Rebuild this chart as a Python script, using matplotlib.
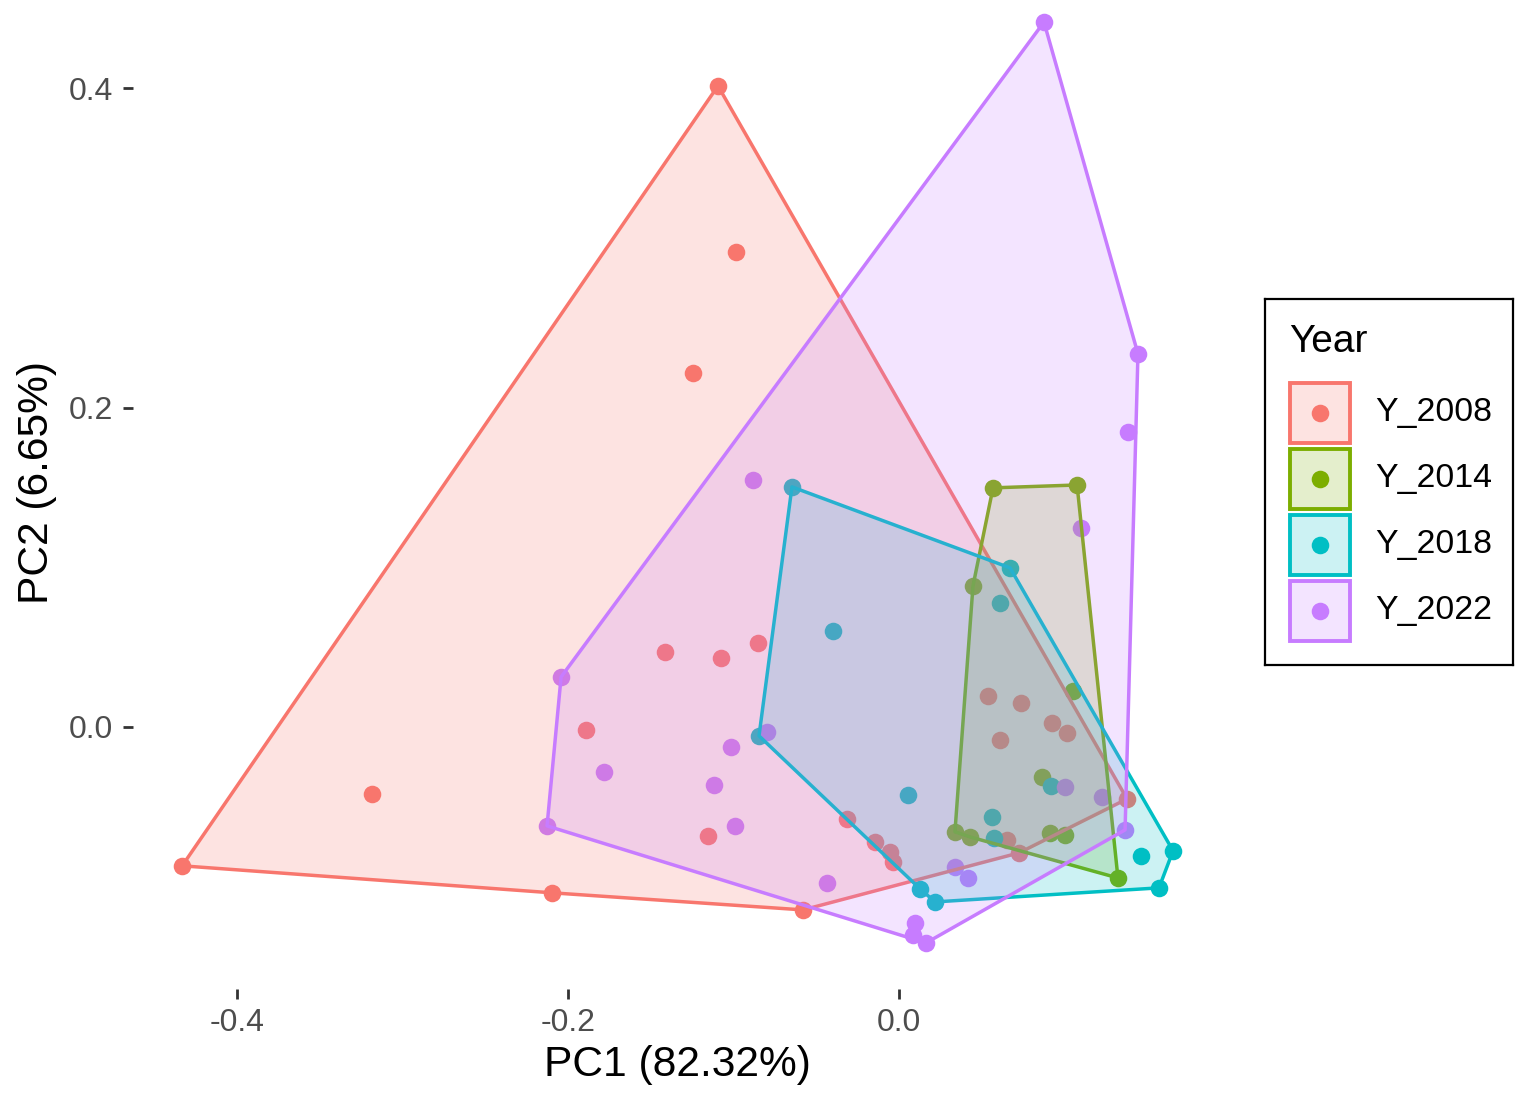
import matplotlib
matplotlib.use("Agg")
import matplotlib.pyplot as plt
import numpy as np
from matplotlib.colors import to_rgba
from matplotlib.patches import Polygon, Rectangle


# ── Data: PCA scores per survey year ────────────────────────────────────────
YEARS = ["Y_2008", "Y_2014", "Y_2018", "Y_2022"]
COLORS = ["#F8766D", "#7CAE00", "#00BFC4", "#C77CFF"]

pc1_2008 = [-0.1094, -0.0985, -0.1245, -0.3184, -0.4332, -0.2097, -0.0580,
            -0.1414, -0.1076, -0.0852, -0.1891, -0.1154, -0.0314, -0.0145,
            -0.0054, -0.0036, 0.0538, 0.0737, 0.0924, 0.1015, 0.0610,
            0.0653, 0.0725, 0.1378]
pc2_2008 = [0.4014, 0.2974, 0.2217, -0.0420, -0.0870, -0.1039, -0.1146,
            0.0470, 0.0432, 0.0526, -0.0019, -0.0683, -0.0576, -0.0720,
            -0.0783, -0.0845, 0.0194, 0.0150, 0.0025, -0.0038, -0.0081,
            -0.0708, -0.0789, -0.0451]

pc1_2014 = [0.0568, 0.1076, 0.0447, 0.1051, 0.0864, 0.0338, 0.0429,
            0.0912, 0.1003, 0.1323]
pc2_2014 = [0.1497, 0.1515, 0.0883, 0.0225, -0.0313, -0.0657, -0.0689,
            -0.0664, -0.0676, -0.0946]

pc1_2018 = [-0.0647, 0.0671, 0.0610, -0.0399, -0.0846, 0.0054, 0.0562,
            0.0574, 0.0918, 0.0127, 0.0218, 0.1462, 0.1656, 0.1571]
pc2_2018 = [0.1503, 0.0996, 0.0776, 0.0601, -0.0056, -0.0426, -0.0564,
            -0.0695, -0.0369, -0.1014, -0.1096, -0.0808, -0.0776, -0.1008]

pc1_2022 = [0.0876, 0.1444, 0.1384, -0.0882, 0.1100, -0.2042, -0.2127,
            -0.0798, -0.1015, -0.1782, -0.1118, -0.0991, -0.0435, 0.1003,
            0.1227, 0.1366, 0.0338, 0.0417, 0.0097, 0.0085, 0.0163]
pc2_2022 = [0.4414, 0.2336, 0.1847, 0.1547, 0.1246, 0.0313, -0.0620,
            -0.0031, -0.0125, -0.0282, -0.0363, -0.0620, -0.0977, -0.0376,
            -0.0438, -0.0645, -0.0877, -0.0946, -0.1227, -0.1302, -0.1353]

PC1 = [pc1_2008, pc1_2014, pc1_2018, pc1_2022]
PC2 = [pc2_2008, pc2_2014, pc2_2018, pc2_2022]

X_TICKS = [-0.4, -0.2, 0.0]
Y_TICKS = [0.0, 0.2, 0.4]


def convex_hull(xs, ys):
    """Monotone chain hull, returns vertices in order."""
    pts = sorted(set(zip(xs, ys)))

    def cross(o, a, b):
        return (a[0] - o[0]) * (b[1] - o[1]) - (a[1] - o[1]) * (b[0] - o[0])

    lower, upper = [], []
    for p in pts:
        while len(lower) >= 2 and cross(lower[-2], lower[-1], p) <= 0:
            lower.pop()
        lower.append(p)
    for p in reversed(pts):
        while len(upper) >= 2 and cross(upper[-2], upper[-1], p) <= 0:
            upper.pop()
        upper.append(p)
    return np.array(lower[:-1] + upper[:-1])


# ── Style ───────────────────────────────────────────────────────────────────
plt.rcParams.update({
    "font.family": ["Liberation Sans", "DejaVu Sans"],
    "axes.unicode_minus": False,
})

W, H, DPI = 1516, 1094, 200
FILL_ALPHA = 0.2
fig = plt.figure(figsize=(W / DPI, H / DPI), dpi=DPI)

# panel extends a little above the canvas edge
ax = fig.add_axes([132.6 / W, 1 - 989 / H, 1090 / W, 1013 / H])

all_x = np.concatenate(PC1)
all_y = np.concatenate(PC2)
xr = all_x.max() - all_x.min()
yr = all_y.max() - all_y.min()
ax.set_xlim(all_x.min() - 0.05 * xr, all_x.max() + 0.05 * xr)
ax.set_ylim(all_y.min() - 0.05 * yr, all_y.max() + 0.05 * yr)

# points first, then one hull per year (fill + outline together)
for xs, ys, col in zip(PC1, PC2, COLORS):
    ax.scatter(xs, ys, s=40, color=col, linewidths=0, zorder=2)

for i, (xs, ys, col) in enumerate(zip(PC1, PC2, COLORS)):
    hull = convex_hull(xs, ys)
    ax.add_patch(Polygon(hull, closed=True,
                         facecolor=to_rgba(col, FILL_ALPHA),
                         edgecolor=col, linewidth=1.25,
                         joinstyle="round", zorder=3 + i))

for s in ax.spines.values():
    s.set_visible(False)
ax.set_xticks(X_TICKS)
ax.set_xticklabels([f"{t:.1f}" for t in X_TICKS])
ax.set_yticks(Y_TICKS)
ax.set_yticklabels([f"{t:.1f}" for t in Y_TICKS])
ax.tick_params(length=3.6, width=1.0, color="#333333", labelcolor="#4D4D4D",
               labelsize=11.5, pad=3.3)

ax.set_xlabel("PC1 (82.32%)", fontsize=15.3, color="black")
ax.set_ylabel("PC2 (6.65%)", fontsize=15.3, color="black")
ax.xaxis.set_label_coords(0.5, (989 - 1065) / 1013)
ax.xaxis.label.set_verticalalignment("center")
ax.yaxis.set_label_coords((37 - 132.6) / 1090, 0.5)
ax.yaxis.label.set_verticalalignment("center")

# ── Legend ─────────────────────────────────────────────────────────────────
lx0, ly0, lw, lh = 1265, 299, 248, 366
lax = fig.add_axes([lx0 / W, 1 - (ly0 + lh) / H, lw / W, lh / H])
lax.set_xlim(0, lw)
lax.set_ylim(lh, 0)
lax.set_xticks([])
lax.set_yticks([])
for s in lax.spines.values():
    s.set_color("black")
    s.set_linewidth(0.8)

lax.text(24, 43, "Year", fontsize=14, va="center", ha="left")
key_y = [114, 180, 246, 312]
for name, col, cy in zip(YEARS, COLORS, key_y):
    lax.add_patch(Rectangle((25, cy - 30), 60, 60,
                            facecolor=to_rgba(col, FILL_ALPHA),
                            edgecolor=col, linewidth=1.4))
    lax.scatter([55], [cy], s=40, color=col, linewidths=0, zorder=3)
    lax.text(110, cy, name, fontsize=12.2, va="center", ha="left")

fig.savefig("out.png", dpi=DPI)
